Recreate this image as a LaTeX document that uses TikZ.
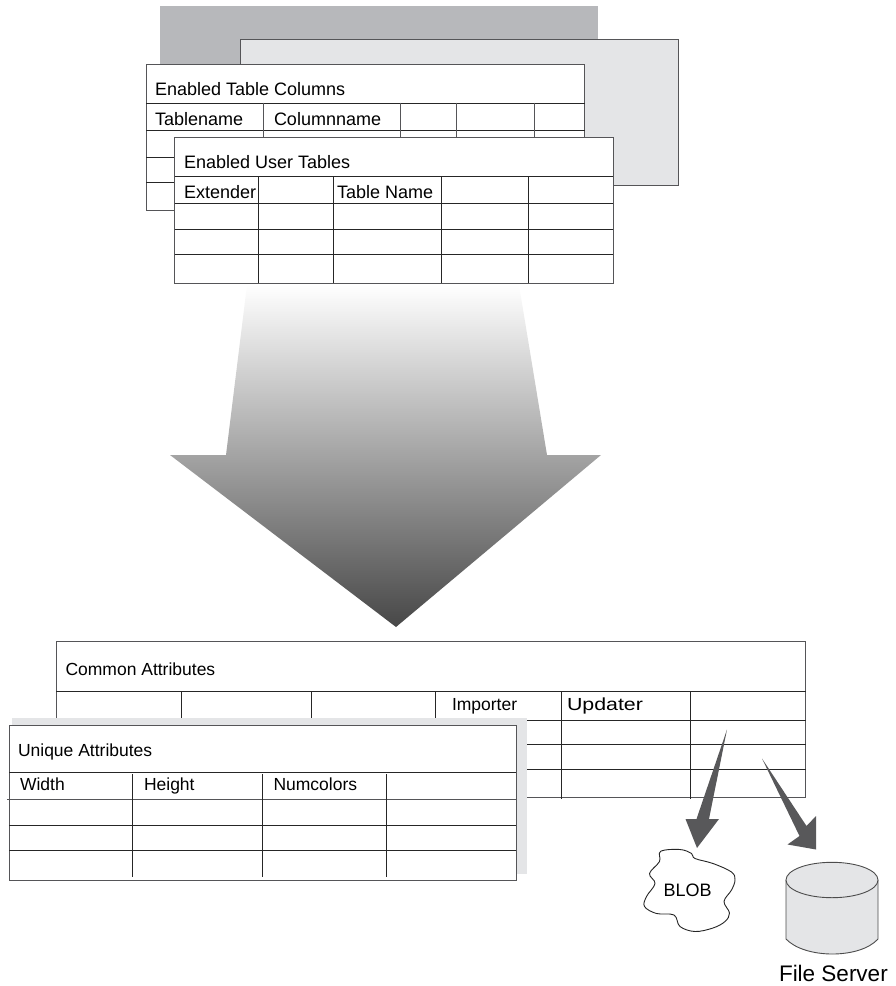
\documentclass[tikz,border=0pt]{standalone}
\usepackage{graphicx}
\usepackage{fontspec}
\setmainfont{Liberation Sans}
\definecolor{sheetdark}{HTML}{B7B8BB}
\definecolor{sheetlight}{HTML}{E4E5E7}
\definecolor{framegray}{HTML}{555558}
\definecolor{arrowdark}{HTML}{58585A}
\tikzset{
  frame/.style={draw=framegray,line width=1pt,fill=white},
  rule/.style={draw=black!85,line width=0.9pt},
  lbl/.style={anchor=base west,inner sep=0pt,outer sep=0pt,font=\fontsize{18}{20}\selectfont},
  lblb/.style={anchor=base west,inner sep=0pt,outer sep=0pt,font=\fontsize{17.5}{20}\selectfont},
  darrow/.style={fill=arrowdark,draw=none},
}
\begin{document}
\begin{tikzpicture}[x=1pt,y=-1pt]
\useasboundingbox (0,0) rectangle (896,986);
% big gradient arrow
\shade[top color=white,bottom color=black!72]
  (247,285) -- (519,285) -- (547,455) -- (601,455) -- (396,627) -- (170,455) -- (226,455) -- cycle;
% back sheets
\fill[sheetdark] (160,6) rectangle (598,42);
\fill[sheetdark] (160,42) rectangle (240,66);
\draw[frame,fill=sheetlight] (240,39.5) rectangle (678,185);
% Enabled Table Columns
\draw[frame] (146,64.5) rectangle (584.5,210);
\foreach \y in {103.5,130,157,182} \draw[rule] (146,\y) -- (584.5,\y);
\foreach \x in {263,400,456,534} \draw[rule,draw=framegray] (\x,102.5) -- (\x,137);
\node[lbl] (t1) at (155,95.5) {Enabled Table Columns};
\node[lbl] (t1a) at (155,125) {Tablename};
\node[lbl] (t1b) at (274,125) {Columnname};
% Enabled User Tables
\draw[frame] (174.5,137) rectangle (613,283);
\foreach \y in {176.5,203,229.5,254.5} \draw[rule] (174.5,\y) -- (613,\y);
\foreach \x in {258,333,441,528.5} \draw[rule] (\x,177) -- (\x,283);
\node[lbl] (t2) at (184,168.5) {Enabled User Tables};
\node[lbl] (t2a) at (184,198.5) {Extender};
\node[lbl] (t2b) at (337,198.5) {Table Name};
% Common Attributes
\draw[frame] (56,641) rectangle (805.5,797);
\foreach \y in {691.5,720.5,744,769} \draw[rule] (56,\y) -- (805.5,\y);
\foreach \x in {181.5,311,435.5} \draw[rule] (\x,692) -- (\x,722);
\foreach \x in {561.5,690} \draw[rule] (\x,692) -- (\x,799);
\node[lblb] (c) at (65.5,675.5) {Common Attributes};
\node[lblb] (ca) at (452,710) {Importer};
\node[lblb] (cb) at (567,710) {\scalebox{1.22}[1]{Updater}};
% Unique Attributes
\fill[sheetlight] (12,718) rectangle (527,874);
\draw[frame] (9,725.5) rectangle (516,880.5);
\draw[rule,draw=framegray] (7,799.5) -- (516,799.5);
\foreach \y in {772,825.5,850.5} \draw[rule] (9,\y) -- (516,\y);
\foreach \x in {132.5,262.5,386.5} \draw[rule] (\x,774) -- (\x,877);
\node[lblb] (u) at (18,756) {Unique Attributes};
\node[lblb] (ua) at (20,790.5) {Width};
\node[lblb] (ub) at (144,790.5) {Height};
\node[lblb] (uc) at (273.5,790.5) {Numcolors};
% small arrows
\fill[darrow] (727,729.5) -- (709,819) -- (719,819) -- (697,848) -- (685.5,819) -- (696.5,819) -- cycle;
\fill[darrow] (762,758.5) -- (806.5,826) -- (816,816) -- (816,849.5) -- (787.5,844.5) -- (799.5,836) -- cycle;
% BLOB
\draw[line width=0.9pt,draw=black!85,fill=white] plot[smooth cycle,tension=0.6] coordinates {
  (660.7,851.3) (680,849.5) (691.5,853.5) (695,858.5) (713,863.5) (731.5,872) (735,880)
  (731.5,890) (724,901.5) (729.5,913) (725,921.5) (713,928) (695,931.5) (680,926.5)
  (674,915) (656.5,913.5) (644.5,906.5) (646.5,896.5) (655,883.5) (649.5,873.5) (659.5,861.5)};
\node[lblb,font=\fontsize{18}{20}\selectfont] (blob) at (663.5,896) {BLOB};
% File Server cylinder
\draw[line width=0.9pt,draw=black!70,fill=sheetlight]
  (786,880) -- (786,939) .. controls (805,959) and (860,959) .. (878,939) -- (878,880);
\draw[line width=0.9pt,draw=black!70,fill=sheetlight] (832,880) ellipse [x radius=46,y radius=17.7];
\node[lbl,font=\fontsize{22.5}{25}\selectfont] (fs) at (779,981.5) {File Server};
\end{tikzpicture}
\end{document}
